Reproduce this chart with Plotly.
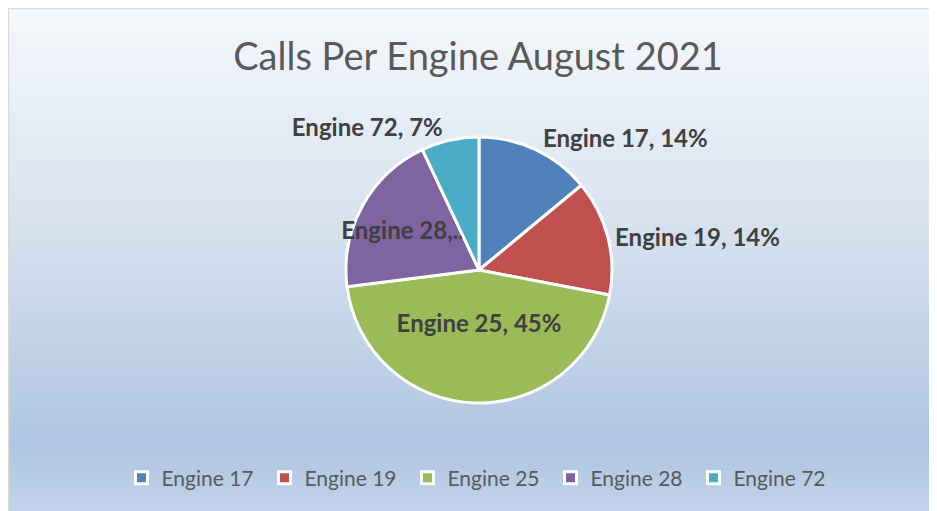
import plotly.graph_objects as go

engines = ["Engine 17", "Engine 19", "Engine 25", "Engine 28", "Engine 72"]
shares = [14, 14, 45, 20, 7]
label_text = ["Engine 17, 14%", "Engine 19, 14%", "Engine 25, 45%", "Engine 28,...", "Engine 72, 7%"]
label_pos = ["outside", "outside", "inside", "inside", "outside"]
colors = ["#4f81bd", "#c0504d", "#9bbb59", "#8064a2", "#4bacc6"]

OFF = 8  # page body margin shifts the figure
W, H = 937 - OFF, 511 - OFF

# background gradient stops (position from top, rgb)
stops = [(0.0, (245, 248, 252)), (0.45, (214, 225, 239)), (0.87, (174, 196, 224)), (1.0, (194, 211, 234))]


def grad_color(t):
    for (p0, c0), (p1, c1) in zip(stops, stops[1:]):
        if p0 <= t <= p1:
            f = (t - p0) / (p1 - p0)
            return "rgb(%d,%d,%d)" % tuple(round(a + (b - a) * f) for a, b in zip(c0, c1))
    return "rgb(%d,%d,%d)" % stops[-1][1]


n = 100
band = 1.0 / n
shapes = []
for i in range(n):
    y1 = 1 - band * i
    y0 = max(0, y1 - band - 2 / H)
    shapes.append(dict(type="rect", xref="paper", yref="paper", x0=0, x1=1, y0=y0, y1=y1,
                       fillcolor=grad_color((i + 0.5) / n), line_width=0, layer="below"))
shapes.append(dict(type="line", xref="paper", yref="paper", x0=0, x1=1, y0=1 - 0.5 / H, y1=1 - 0.5 / H,
                   line=dict(color="#d9d9d9", width=1.5), layer="below"))
shapes.append(dict(type="line", xref="paper", yref="paper", x0=0.5 / W, x1=0.5 / W, y0=0, y1=1,
                   line=dict(color="#d9d9d9", width=1.5), layer="below"))

cx, cy, r = 479 - OFF, 270 - OFF, 133

fig = go.Figure(go.Pie(
    labels=engines,
    values=shares,
    text=label_text,
    textinfo="text",
    textposition=label_pos,
    insidetextorientation="horizontal",
    sort=False,
    direction="clockwise",
    rotation=0,
    marker=dict(colors=colors, line=dict(color="white", width=3)),
    textfont=dict(family="Lato, Open Sans, sans-serif", size=24, color="#404040", weight="bold"),
    hoverinfo="label+percent",
    domain=dict(x=[(cx - r) / W, (cx + r) / W], y=[(H - cy - r) / H, (H - cy + r) / H]),
))

fig.update_layout(
    width=W, height=H,
    margin=dict(l=0, r=0, t=0, b=0),
    paper_bgcolor="white",
    shapes=shapes,
    uniformtext=dict(minsize=24, mode="show"),
    title=dict(text="Calls Per Engine August 2021", x=(478 - OFF) / W, xanchor="center",
               y=1 - (57 - OFF) / H, yanchor="middle",
               font=dict(family="Lato, Open Sans, sans-serif", size=38, color="#595959")),
    legend=dict(orientation="h", x=(479 - OFF) / W, xanchor="center", y=1 - (478 - OFF) / H, yanchor="middle",
                font=dict(family="Lato, Open Sans, sans-serif", size=21, color="#595959"),
                bgcolor="rgba(0,0,0,0)", itemwidth=30, entrywidth=98, entrywidthmode="pixels",
                traceorder="normal"),
)

fig.write_html("out.html")
